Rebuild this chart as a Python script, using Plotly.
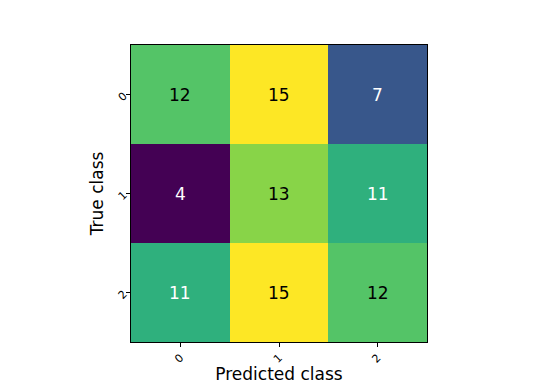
import plotly.graph_objects as go

classes = ["0", "1", "2"]
matrix = [
    [12, 15, 7],
    [4, 13, 11],
    [11, 15, 12],
]

zmin = min(min(r) for r in matrix)
zmax = max(max(r) for r in matrix)

fig = go.Figure()
fig.add_trace(go.Heatmap(
    z=matrix, x=classes, y=classes,
    colorscale="Viridis", zmin=zmin, zmax=zmax,
    showscale=False, hoverongaps=False,
))

annotations = []
for i, row in enumerate(matrix):
    for j, v in enumerate(row):
        annotations.append(dict(
            x=classes[j], y=classes[i], text=str(v), showarrow=False,
            font=dict(family="DejaVu Sans", size=17,
                      color="white" if v <= 11 else "black"),
        ))

fig.update_layout(
    width=544, height=384,
    margin=dict(l=131, r=117, t=45, b=42),
    paper_bgcolor="white", plot_bgcolor="white",
    annotations=annotations,
    font=dict(family="DejaVu Sans", color="black"),
)
fig.update_xaxes(
    title=dict(text="Predicted class", font=dict(size=17), standoff=2),
    tickangle=-45, tickfont=dict(size=11), automargin=False,
    ticks="outside", ticklen=4, tickcolor="black",
    showline=True, linecolor="black", linewidth=1, mirror=True,
    showgrid=False, zeroline=False,
)
fig.update_yaxes(
    title=dict(text="True class", font=dict(size=17), standoff=7),
    tickangle=-45, tickfont=dict(size=11), autorange="reversed", automargin=False,
    ticks="outside", ticklen=4, tickcolor="black",
    showline=True, linecolor="black", linewidth=1, mirror=True,
    showgrid=False, zeroline=False,
)

fig.write_html("out.html", config={"displayModeBar": False},
               post_script="document.body.style.margin='0px';document.body.style.padding='0px';")
